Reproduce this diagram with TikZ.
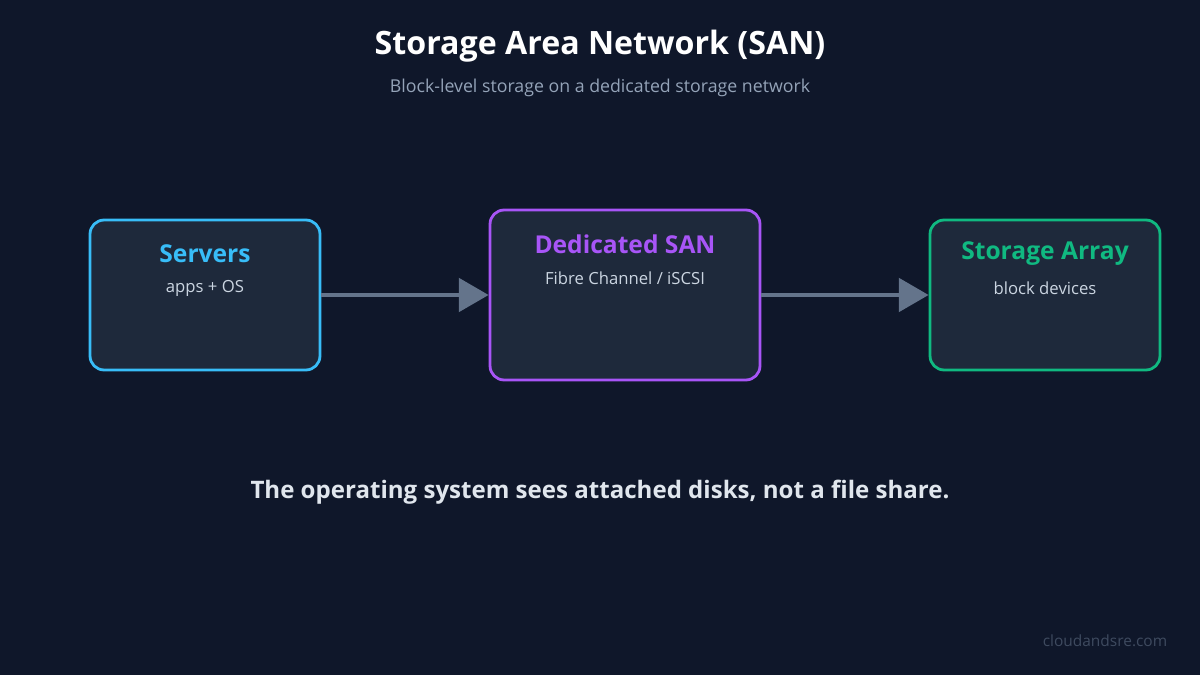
\documentclass[tikz,border=0pt]{standalone}
\usepackage{fontspec}
\setmainfont{Open Sans}
\usetikzlibrary{positioning, arrows.meta}

\begin{document}
\begin{tikzpicture}[x=0.02cm, y=-0.02cm, >={Triangle[length=17pt, width=19pt]}]
  \definecolor{bgnavy}{HTML}{0F172A}
  \definecolor{boxfill}{HTML}{1E293B}
  \definecolor{serverblue}{HTML}{38BDF8}
  \definecolor{sanpurple}{HTML}{A855F7}
  \definecolor{arraygreen}{HTML}{10B981}
  \definecolor{arrowgray}{HTML}{64748B}
  \definecolor{subgray}{HTML}{94A3B8}
  \definecolor{smallgray}{HTML}{CBD5E1}
  \tikzset{
    unit/.style={draw=#1, fill=boxfill, line width=1.6pt, rounded corners=8pt, minimum width=4.6cm, minimum height=3cm},
    head/.style={text=#1, font=\fontsize{14}{16}\selectfont\bfseries},
    note/.style={text=smallgray, font=\fontsize{9.5}{11}\selectfont},
    link/.style={->, draw=arrowgray, line width=2.4pt}
  }
  \useasboundingbox[fill=bgnavy] (0,0) rectangle (1200,675);
  \node[text=white, font=\fontsize{18.3}{21}\selectfont\bfseries] (title) at (600,46) {Storage Area Network (SAN)};
  \node[text=subgray, font=\fontsize{10.1}{12}\selectfont] (subtitle) at (600,88) {Block-level storage on a dedicated storage network};
  % the three blocks
  \node[unit=serverblue] (servers) at (205,295) {};
  \node[head=serverblue] at (205,254) {Servers};
  \node[note] at (205,288) {apps + OS};
  \node[unit=sanpurple, minimum width=5.4cm, minimum height=3.4cm] (san) at (625,295) {};
  \node[head=sanpurple] at (625,244) {Dedicated SAN};
  \node[note] at (625,278) {Fibre Channel / iSCSI};
  \node[unit=arraygreen] (array) at (1045,295) {};
  \node[head=arraygreen] at (1045,254) {Storage Array};
  \node[note] at (1045,288) {block devices};
  \draw[link] (servers.east) -- (san.west);
  \draw[link] (san.east) -- (array.west);
  \node[text=smallgray!60!white, font=\fontsize{13.7}{16}\selectfont\bfseries] (caption) at (600,492) {The operating system sees attached disks, not a file share.};
  \node[text=arrowgray!55!bgnavy, font=\fontsize{8.8}{10}\selectfont] (credit) at (1105,641) {cloudandsre.com};
\end{tikzpicture}
\end{document}
